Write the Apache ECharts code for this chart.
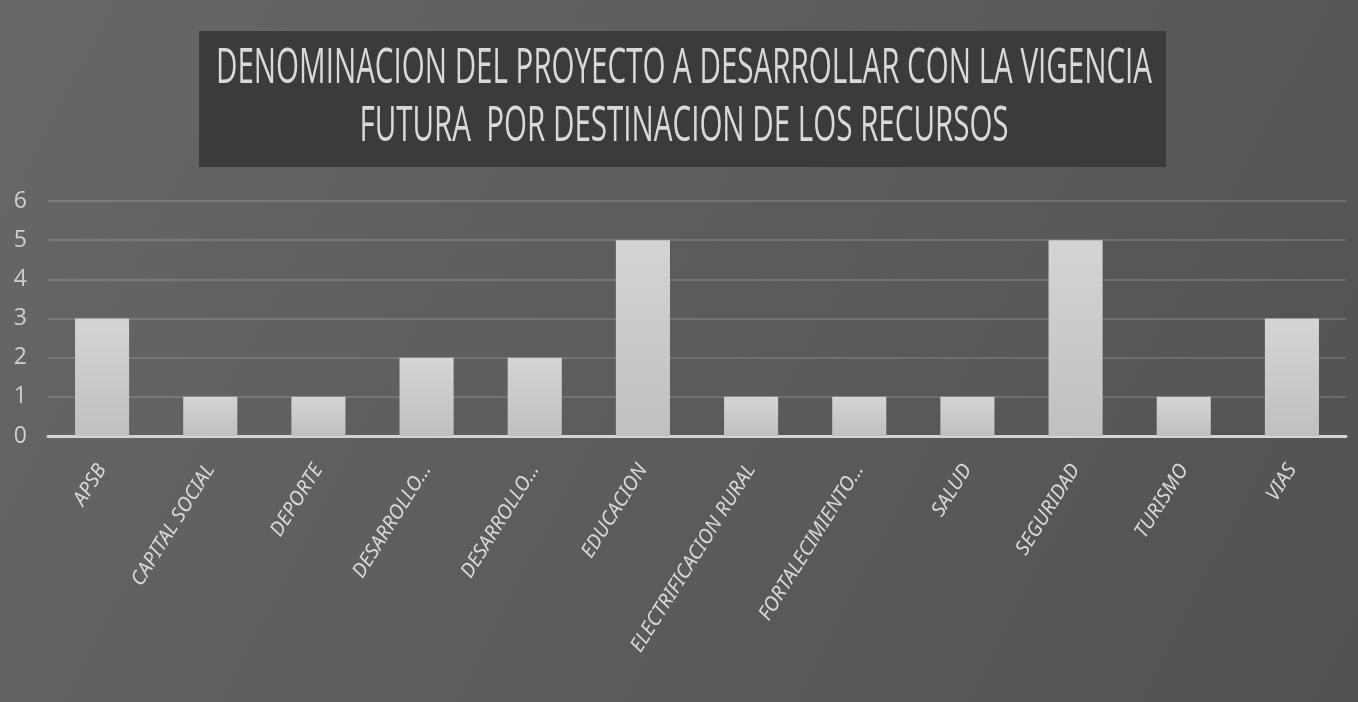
<!DOCTYPE html>
<html style="height: 100%">
	<head>
		<meta charset="utf-8">
		<script src="https://cdn.jsdelivr.net/npm/echarts@6/dist/echarts.min.js"></script>
		<style>
			html, body { margin: 0; padding: 0; }
			#chart { width: 1358px; height: 702px; }
		</style>
	</head>
	<body>
		<div id="chart"></div>
		<script>
			// datos del grafico
			var titleLines = ['DENOMINACION DEL PROYECTO A DESARROLLAR CON LA VIGENCIA', 'FUTURA  POR DESTINACION DE LOS RECURSOS'];
			var categorias = ['APSB', 'CAPITAL SOCIAL', 'DEPORTE', 'DESARROLLO...', 'DESARROLLO...', 'EDUCACION',
				'ELECTRIFICACION RURAL', 'FORTALECIMIENTO...', 'SALUD', 'SEGURIDAD', 'TURISMO', 'VIAS'];
			var valores = [3, 1, 1, 2, 2, 5, 1, 1, 1, 5, 1, 3];
			var ejeY = { min: 0, max: 6, interval: 1 };

			// el titulo es alto y estrecho: se mide la linea larga y se comprime en x
			var titleFont = 'normal 49px "Open Sans"';
			var ctx = document.createElement('canvas').getContext('2d');
			ctx.font = titleFont;
			var sx = 936 / ctx.measureText(titleLines[0]).width;

			var myChart = echarts.init(document.getElementById('chart'));
			var option = {
				animation: false,
				backgroundColor: new echarts.graphic.LinearGradient(0, 0, 1, 1, [
					{ offset: 0, color: '#676767' },
					{ offset: 0.5, color: '#5c5c5c' },
					{ offset: 1, color: '#525252' }
				]),
				graphic: [{
					type: 'rect',
					z: 0,
					shape: { x: 199, y: 31, width: 967, height: 136 },
					style: { fill: '#3b3b3b' }
				}, {
					type: 'text',
					z: 1,
					x: 684,
					y: 69,
					scaleX: sx,
					style: { text: titleLines[0], font: titleFont, fill: '#d9d9d9', align: 'center', verticalAlign: 'middle' }
				}, {
					type: 'text',
					z: 1,
					x: 684,
					y: 127,
					scaleX: sx,
					style: { text: titleLines[1], font: titleFont, fill: '#d9d9d9', align: 'center', verticalAlign: 'middle' }
				}],
				grid: { left: 48, right: 12, top: 201, bottom: 266, containLabel: false },
				xAxis: {
					type: 'category',
					data: categorias,
					axisLine: { lineStyle: { color: '#d4d4d4', width: 3 } },
					axisTick: { show: false },
					axisLabel: {
						rotate: 58,
						margin: 30,
						interval: 0,
						fontFamily: 'Noto Sans',
						fontStyle: 'italic',
						fontSize: 20,
						color: '#d8d8d8'
					}
				},
				yAxis: {
					type: 'value',
					min: ejeY.min,
					max: ejeY.max,
					interval: ejeY.interval,
					axisLine: { show: false },
					axisTick: { show: false },
					axisLabel: {
						margin: 21,
						fontFamily: 'Open Sans',
						fontSize: 23,
						color: '#cfcfcf'
					},
					splitLine: { lineStyle: { color: 'rgba(230,230,230,0.22)', width: 1.5 } }
				},
				series: [{
					type: 'bar',
					data: valores,
					barWidth: '50%',
					itemStyle: {
						color: new echarts.graphic.LinearGradient(0, 0, 0, 1, [
							{ offset: 0, color: '#d4d4d4' },
							{ offset: 1, color: '#c0c0c0' }
						])
					}
				}]
			};
			myChart.setOption(option);
		</script>
	</body>
</html>
